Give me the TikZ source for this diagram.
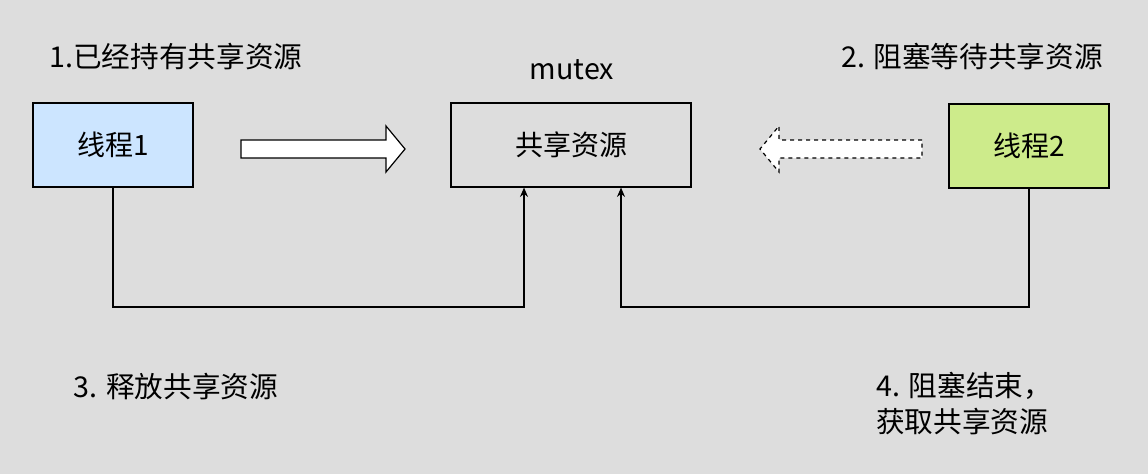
\documentclass[tikz,border=0pt]{standalone}
\usepackage{fontspec}
\setmainfont{Liberation Sans}
\newfontfamily\cjk{Noto Sans CJK SC}
\begin{document}
\begin{tikzpicture}[x=0.75pt,y=-0.75pt,
  box/.style={draw=black,line width=0.9pt,minimum width=120pt,minimum height=63pt,font=\cjk\fontsize{21}{24}\selectfont},
  lbl/.style={font=\cjk\fontsize{21.5}{25}\selectfont,inner sep=0pt},
  conn/.style={line width=0.9pt,-{Stealth[length=7pt,width=6pt]}}]
\usetikzlibrary{arrows.meta}
\fill[fill={rgb,255:red,221;green,221;blue,221}] (0,0) rectangle (1148,474);
\useasboundingbox (0,0) rectangle (1148,474);
\node[box,fill={rgb,255:red,204;green,229;blue,255}] (t1) at (113,145) {线程1};
\node[box,minimum width=180pt] (res) at (571,145) {共享资源};
\node[box,fill={rgb,255:red,205;green,235;blue,139}] (t2) at (1029,146) {线程2};
\draw[line width=0.9pt,fill=white] (241,140)--(386,140)--(386,126)--(405,149)--(386,172)--(386,158)--(241,158)--cycle;
\draw[line width=0.9pt,fill=white,dashed] (922,140)--(779,140)--(779,126)--(760,149)--(779,172)--(779,158)--(922,158)--cycle;
\coordinate (c1) at (113,307); \coordinate (c2) at (524,307);
\coordinate (c3) at (1029,307); \coordinate (c4) at (621,307);
\draw[conn] (t1.south) -- (c1) -- (c2) -- (c2|-res.south);
\draw[conn] (t2.south) -- (c3) -- (c4) -- (c4|-res.south);
\node[lbl] (l1) at (176,57) {1.已经持有共享资源};
\node[lbl] (lm) at (572,70) {mutex};
\node[lbl] (l2) at (972,57) {2. 阻塞等待共享资源};
\node[lbl] (l3) at (176,387) {3. 释放共享资源};
\node[lbl,anchor=west,align=left] (l4) at (876,404) {4. 阻塞结束，\\[2pt]获取共享资源};
\end{tikzpicture}
\end{document}
